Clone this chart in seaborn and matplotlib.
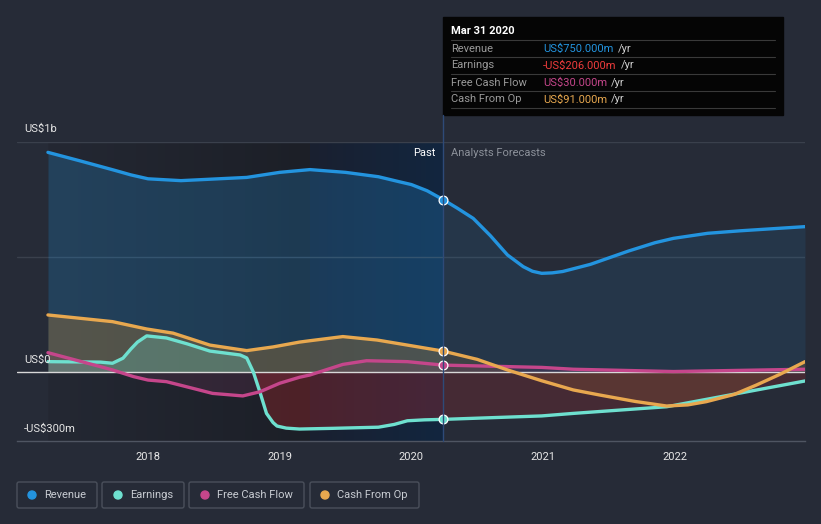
import numpy as np
import pandas as pd
import matplotlib
matplotlib.use("Agg")
import matplotlib.pyplot as plt
import seaborn as sns
from matplotlib.colors import LinearSegmentedColormap
from matplotlib.patches import Rectangle, FancyBboxPatch, Circle

# ---- data (US$ m), x in decimal years ----
rev_x = [2017.24, 2017.49, 2017.74, 2017.87, 2018.0, 2018.25, 2018.5, 2018.75, 2019.0, 2019.23,
         2019.5, 2019.75, 2019.91, 2020.0, 2020.12, 2020.24, 2020.35, 2020.47, 2020.6, 2020.73,
         2020.85, 2020.92, 2020.99, 2021.07, 2021.15, 2021.36, 2021.65, 2021.85, 2021.99, 2022.25,
         2022.5, 2022.99]
rev_y = [955, 917, 878, 857, 840, 832, 839, 846, 868, 880,
         868, 849, 827, 815, 788, 750, 712, 668, 593, 509,
         458, 438, 429, 431, 437, 468, 526, 562, 581, 603,
         614, 632]

earn_x = [2017.24, 2017.64, 2017.73, 2017.81, 2017.87, 2017.92, 2017.99, 2018.14, 2018.3, 2018.47,
          2018.7, 2018.75, 2018.8, 2018.85, 2018.9, 2018.95, 2018.98, 2019.05, 2019.15, 2019.4,
          2019.75, 2019.87, 2019.97, 2020.1, 2020.24, 2020.99, 2021.23, 2021.94, 2022.99]
earn_y = [45, 43, 38, 60, 100, 130, 157, 148, 122, 91,
          74, 61, 0, -87, -180, -220, -235, -244, -248, -245,
          -240, -228, -212, -208, -206, -191, -180, -151, -39]

fcf_x = [2017.24, 2017.64, 2017.73, 2017.89, 2018.0, 2018.14, 2018.34, 2018.49, 2018.72, 2018.85,
         2019.0, 2019.15, 2019.23, 2019.48, 2019.66, 2019.97, 2020.24, 2020.99, 2021.23, 2021.99,
         2022.99]
fcf_y = [84, 23, 9, -20, -35, -42, -71, -93, -104, -86,
         -49, -23, -13, 33, 49, 45, 30, 20, 12, 2,
         12]

cfo_x = [2017.24, 2017.73, 2017.99, 2018.19, 2018.47, 2018.75, 2018.95, 2019.15, 2019.23, 2019.48,
         2019.74, 2019.97, 2020.24, 2020.5, 2020.73, 2020.99, 2021.23, 2021.43, 2021.7, 2021.94,
         2022.1, 2022.24, 2022.45, 2022.62, 2022.8, 2022.99]
cfo_y = [248, 219, 187, 169, 117, 93, 109, 130, 136, 154,
         139, 117, 91, 55, 9, -38, -78, -100, -128, -148,
         -143, -129, -98, -57, -10, 45]

years = [2018, 2019, 2020, 2021, 2022]
now = 2020.24
series_names = ["Revenue", "Earnings", "Free Cash Flow", "Cash From Op"]
tip_values = ["US$750.000m", "-US$206.000m", "US$30.000m", "US$91.000m"]

BG = "#262b37"
C_REV = "#2394df"
C_EARN = "#6ee0cf"
C_FCF = "#c5468b"
C_CFO = "#e8a84f"
C_NEG = "#e02a2a"

sns.set_style("dark")
plt.rcParams["font.family"] = ["Roboto", "DejaVu Sans"]

fig = plt.figure(figsize=(8.21, 5.24), dpi=100, facecolor=BG)
ax = fig.add_axes([17 / 821, (524 - 441) / 524, 788 / 821, 299 / 524])
ax.set_facecolor(BG)
X0, X1, Y0, Y1 = 2017.005, 2022.99, -300, 1000


def hgrad(x0, x1, c0, c1, z=0):
    grad = np.linspace(0, 1, 256).reshape(1, -1)
    cmap = LinearSegmentedColormap.from_list("g", [c0, c1])
    ax.imshow(grad, extent=[x0, x1, Y0, Y1], aspect="auto", cmap=cmap, zorder=z, origin="lower")


# past shading
hgrad(rev_x[0], 2019.23, "#242833", "#1c1f27")
hgrad(2019.23, now, "#1a2030", "#12263f")

# grid
for v in [1000, 500]:
    ax.axhline(v, color="#3a404c", lw=1, zorder=1)

df_rev = pd.DataFrame({"x": rev_x, "y": rev_y})
df_earn = pd.DataFrame({"x": earn_x, "y": earn_y})
df_fcf = pd.DataFrame({"x": fcf_x, "y": fcf_y})
df_cfo = pd.DataFrame({"x": cfo_x, "y": cfo_y})

# fills
for d, col, ap, af, z in [(df_rev, C_REV, 0.24, 0.11, 2), (df_cfo, "#b07a30", 0.35, 0.18, 3)]:
    x = d.x.values
    ax.fill_between(x, d.y, 0, where=x <= now, color=col, alpha=ap, lw=0, zorder=z)
    ax.fill_between(x, d.y, 0, where=x >= now, color=col, alpha=af, lw=0, zorder=z)
ax.fill_between(df_fcf.x, df_fcf.y, 0, color=C_FCF, alpha=0.12, lw=0, zorder=3)
ex = df_earn.x.values
e = df_earn.y.values
ax.fill_between(ex, e, 0, where=e >= 0, color=C_EARN, alpha=0.25, lw=0, zorder=4)
ax.fill_between(ex, e, 0, where=(e <= 0) & (ex <= now), color=C_NEG, alpha=0.25, lw=0, zorder=4)
ax.fill_between(ex, e, 0, where=(e <= 0) & (ex >= now), color=C_NEG, alpha=0.17, lw=0, zorder=4)

ax.axhline(0, color="#d8d8d8", lw=1, zorder=5)

for d, col in [(df_rev, C_REV), (df_earn, C_EARN), (df_fcf, C_FCF), (df_cfo, C_CFO)]:
    sns.lineplot(data=d, x="x", y="y", ax=ax, color=col, lw=2.4, zorder=6)
    yv = np.interp(now, d.x, d.y)
    ax.scatter([now], [yv], s=40, color=col, edgecolor="white", linewidth=0.9, zorder=7)

ax.set_xlim(X0, X1)
ax.set_ylim(Y0, Y1)
ax.set_xlabel("")
ax.set_ylabel("")
ax.set_yticks([])
ax.set_xticks(years)
ax.set_xticklabels([str(y) for y in years], color="#e6e6e6", fontsize=8)
ax.tick_params(axis="x", length=4, color="#4f5562", pad=4)
ax.grid(False)
for s in ["top", "left", "right"]:
    ax.spines[s].set_visible(False)
ax.spines["bottom"].set_color("#4f5562")
ax.spines["bottom"].set_linewidth(1)

# overlay in pixel coordinates
ov = fig.add_axes([0, 0, 1, 1], facecolor="none")
ov.set_xlim(0, 821)
ov.set_ylim(524, 0)
ov.axis("off")

ov.plot([443, 443], [115, 441], color="#2e4a78", lw=1)
ov.text(24, 129, "US$1b", color="#e6e6e6", fontsize=8, va="center")
ov.text(24, 360, "US$0", color="#e6e6e6", fontsize=8, va="center")
ov.text(24, 429, "-US$300m", color="#e6e6e6", fontsize=8, va="center")
ov.text(435, 153, "Past", color="#ffffff", fontsize=8, va="center", ha="right")
ov.text(451, 153, "Analysts Forecasts", color="#8c919a", fontsize=8, va="center")

# tooltip
ov.add_patch(Rectangle((443, 17), 340, 98, color="#050505", zorder=1))
ov.text(451, 31, "Mar 31 2020", color="white", fontsize=8, fontweight="bold", va="center", zorder=2)
for yy in [40, 57, 74, 91, 108]:
    ov.plot([451, 775], [yy, yy], color="#3a3a3a", lw=0.8, zorder=2)
cols = [C_REV, "#f03c3c", C_FCF, C_CFO]
for i, (nm, val, c) in enumerate(zip(series_names, tip_values, cols)):
    yy = 48.5 + i * 17
    ov.text(451, yy, nm, color="#9a9a9a", fontsize=8, va="center", zorder=2)
    t = ov.text(543, yy, val, color=c, fontsize=8, va="center", zorder=2)
    ov.annotate("/yr", xy=(1, 0.5), xycoords=t, xytext=(3, 0), textcoords="offset points",
                color="#d0d0d0", fontsize=8, va="center", zorder=2)

# legend
boxes = [(17, 97), (102, 184), (189, 304), (310, 419)]
dots = [32, 118, 205, 325]
labs_x = [44, 130, 217, 337]
for (a, b), dx, lx, nm, c in zip(boxes, dots, labs_x, series_names, [C_REV, C_EARN, C_FCF, C_CFO]):
    ov.add_patch(FancyBboxPatch((a, 482), b - a, 26, boxstyle="round,pad=0,rounding_size=2",
                                fc="none", ec="#4a505b", lw=1))
    ov.add_patch(Circle((dx, 495), 4, color=c))
    ov.text(lx, 495, nm, color="#c8ccd2", fontsize=8, va="center")

fig.savefig("out.png", dpi=100, facecolor=BG)
